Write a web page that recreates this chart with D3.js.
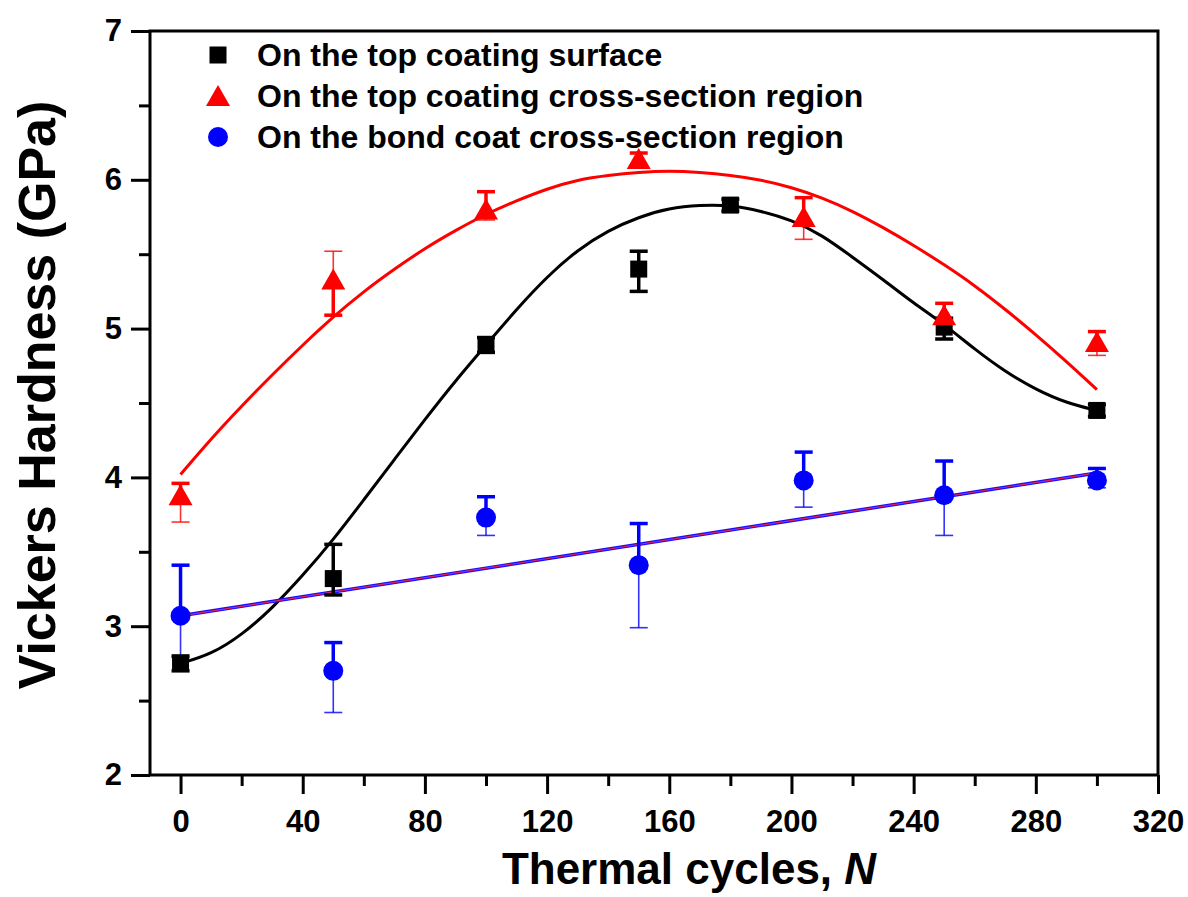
<!DOCTYPE html>
<html>
<head>
<meta charset="utf-8">
<script src="https://cdn.jsdelivr.net/npm/d3@7"></script>
<style>
  body { margin: 0; background: #fff; }
  svg { display: block; }
  text { font-family: "Liberation Sans", Arial, Helvetica, sans-serif; font-weight: bold; fill: #000; }
</style>
</head>
<body>
<svg id="chart" width="1188" height="897"></svg>
<script>
// ---- measured hardness (GPa) vs thermal cycles ----
const surfaceN      = [0, 50, 100, 150, 180, 250, 300];
const surfaceHV     = [2.75, 3.32, 4.89, 5.40, 5.83, 5.01, 4.45];
const surfaceUp     = [0.05, 0.23, 0.05, 0.12, 0.04, 0.06, 0.04];
const surfaceDown   = [0.05, 0.11, 0.05, 0.15, 0.04, 0.08, 0.04];

const topSectionN    = [0, 50, 100, 150, 204, 250, 300];
const topSectionHV   = [3.88, 5.33, 5.80, 6.14, 5.75, 5.09, 4.91];
const topSectionUp   = [0.08, 0.19, 0.12, 0.04, 0.13, 0.08, 0.07];
const topSectionDown = [0.18, 0.24, 0.07, 0.05, 0.15, 0.05, 0.09];

const bondN    = [0, 50, 100, 150, 204, 250, 300];
const bondHV   = [3.07, 2.70, 3.73, 3.41, 3.98, 3.88, 3.98];
const bondUp   = [0.34, 0.19, 0.14, 0.28, 0.19, 0.23, 0.08];
const bondDown = [0.28, 0.28, 0.12, 0.42, 0.18, 0.27, 0.05];

// ---- fitted trend curves ----
const surfaceFitN  = [0, 10, 20, 30, 40, 50, 60, 70, 80, 90, 100, 110, 120, 130, 140, 150,
                      160, 170, 180, 190, 200, 210, 220, 230, 240, 250, 260, 270, 280, 290, 300];
const surfaceFitHV = [2.75, 2.81, 2.94, 3.12, 3.34, 3.58, 3.85, 4.12, 4.39, 4.65, 4.89, 5.13, 5.35,
                      5.53, 5.66, 5.75, 5.81, 5.83, 5.83, 5.79, 5.73, 5.63, 5.48, 5.33, 5.17, 5.03,
                      4.86, 4.71, 4.59, 4.50, 4.45];
const topFitN  = surfaceFitN;
const topFitHV = [4.02, 4.26, 4.48, 4.69, 4.89, 5.08, 5.25, 5.40, 5.54, 5.66, 5.77, 5.86, 5.94,
                  6.00, 6.03, 6.05, 6.06, 6.05, 6.03, 6.00, 5.95, 5.88, 5.79, 5.68, 5.56, 5.43,
                  5.29, 5.13, 4.96, 4.78, 4.59];
const bondFitN  = [0, 300];
const bondFitHV = [3.07, 4.03];

// ---- axis ticks and labels ----
const xMajor = [0, 40, 80, 120, 160, 200, 240, 280, 320];
const xMinor = [20, 60, 100, 140, 180, 220, 260, 300];
const yMajor = [2, 3, 4, 5, 6, 7];
const yMinor = [2.5, 3.5, 4.5, 5.5, 6.5];
const xTitle = "Thermal cycles, ";
const xTitleVar = "N";
const yTitle = "Vickers Hardness (GPa)";
const legendLabels = [
  "On the top coating surface",
  "On the top coating cross-section region",
  "On the bond coat cross-section region"
];

// which whiskers are drawn heavy (1) or light (0)
const surfaceHeavyUp = [1, 1, 1, 1, 1, 1, 1], surfaceHeavyDown = [1, 1, 1, 1, 1, 1, 1];
const topHeavyUp     = [1, 0, 1, 1, 1, 1, 1], topHeavyDown     = [0, 1, 0, 0, 0, 0, 0];
const bondHeavyUp    = [1, 1, 1, 1, 1, 1, 1], bondHeavyDown    = [0, 0, 0, 0, 0, 0, 0];

const svg = d3.select("#chart");
const plot = { left: 150, right: 1158, top: 31, bottom: 775 };

const x = d3.scaleLinear().domain([-10, 320]).range([plot.left, plot.right]);
const y = d3.scaleLinear().domain([2, 7]).range([plot.bottom, plot.top]);

// axes with outward ticks
const gx = svg.append("g").attr("transform", `translate(0,${plot.bottom})`)
  .call(d3.axisBottom(x).tickValues(xMajor).tickSize(19).tickPadding(16).tickFormat(d3.format("d")));
const gxm = svg.append("g").attr("transform", `translate(0,${plot.bottom})`)
  .call(d3.axisBottom(x).tickValues(xMinor).tickSize(11).tickFormat(""));
const gy = svg.append("g").attr("transform", `translate(${plot.left},0)`)
  .call(d3.axisLeft(y).tickValues(yMajor).tickSize(19).tickPadding(9).tickFormat(d3.format("d")));
const gym = svg.append("g").attr("transform", `translate(${plot.left},0)`)
  .call(d3.axisLeft(y).tickValues(yMinor).tickSize(11).tickFormat(""));

[gx, gxm, gy, gym].forEach(g => {
  g.select(".domain").remove();
  g.selectAll(".tick line").attr("stroke", "#000").attr("stroke-width", 3);
  g.selectAll(".tick text").attr("font-size", 31).attr("fill", "#000")
    .attr("font-family", '"Liberation Sans", Arial, sans-serif').attr("font-weight", "bold");
});

// frame
svg.append("rect")
  .attr("x", plot.left).attr("y", plot.top)
  .attr("width", plot.right - plot.left).attr("height", plot.bottom - plot.top)
  .attr("fill", "none").attr("stroke", "#000").attr("stroke-width", 3);

// axis titles
const xt = svg.append("text").attr("x", (plot.left + plot.right) / 2 + 35).attr("y", 884)
  .attr("text-anchor", "middle").attr("font-size", 44);
xt.append("tspan").text(xTitle);
xt.append("tspan").attr("font-style", "italic").text(xTitleVar);

svg.append("text")
  .attr("transform", `translate(55,395) rotate(-90)`)
  .attr("text-anchor", "middle").attr("font-size", 52).text(yTitle);

// fitted curves
const line = d3.line().x(d => x(d[0])).y(d => y(d[1])).curve(d3.curveBasis);
const zipPts = (a, b) => a.map((v, i) => [v, b[i]]);

svg.append("path").datum(zipPts(topFitN, topFitHV)).attr("d", line)
  .attr("fill", "none").attr("stroke", "#ff0000").attr("stroke-width", 3);
svg.append("path").datum(zipPts(surfaceFitN, surfaceFitHV)).attr("d", line)
  .attr("fill", "none").attr("stroke", "#000").attr("stroke-width", 3);
svg.append("path").datum(zipPts(bondFitN, bondFitHV)).attr("d", line)
  .attr("fill", "none").attr("stroke", "#1010ff").attr("stroke-width", 3.5);
svg.append("path").datum(zipPts(bondFitN, bondFitHV)).attr("d", line)
  .attr("fill", "none").attr("stroke", "#e0206a").attr("stroke-width", 1.2);

// markers
function marker(g, shape, cx, cy, color) {
  if (shape === "square") {
    g.append("rect").attr("x", cx - 8.5).attr("y", cy - 8.5).attr("width", 17).attr("height", 17).attr("fill", color);
  } else if (shape === "triangle") {
    g.append("path").attr("d", `M${cx},${cy - 11}L${cx + 12},${cy + 10}L${cx - 12},${cy + 10}Z`).attr("fill", color);
  } else {
    g.append("circle").attr("cx", cx).attr("cy", cy).attr("r", 10).attr("fill", color);
  }
}

function drawSeries(N, HV, up, down, heavyUp, heavyDown, color, shape) {
  const g = svg.append("g");
  N.forEach((n, i) => {
    const cx = x(n), cy = y(HV[i]);
    const yu = y(HV[i] + up[i]), yd = y(HV[i] - down[i]);
    const wu = heavyUp[i] ? 3.5 : 1.6, wd = heavyDown[i] ? 3.5 : 1.6;
    const ou = heavyUp[i] ? 1 : 0.8, od = heavyDown[i] ? 1 : 0.8;
    g.append("line").attr("x1", cx).attr("x2", cx).attr("y1", cy).attr("y2", yu)
      .attr("stroke", color).attr("stroke-width", wu).attr("opacity", ou);
    g.append("line").attr("x1", cx - 9).attr("x2", cx + 9).attr("y1", yu).attr("y2", yu)
      .attr("stroke", color).attr("stroke-width", wu).attr("opacity", ou);
    g.append("line").attr("x1", cx).attr("x2", cx).attr("y1", cy).attr("y2", yd)
      .attr("stroke", color).attr("stroke-width", wd).attr("opacity", od);
    g.append("line").attr("x1", cx - 9).attr("x2", cx + 9).attr("y1", yd).attr("y2", yd)
      .attr("stroke", color).attr("stroke-width", wd).attr("opacity", od);
    marker(g, shape, cx, cy, color);
  });
}

drawSeries(bondN, bondHV, bondUp, bondDown, bondHeavyUp, bondHeavyDown, "#0000ff", "circle");
drawSeries(surfaceN, surfaceHV, surfaceUp, surfaceDown, surfaceHeavyUp, surfaceHeavyDown, "#000000", "square");
drawSeries(topSectionN, topSectionHV, topSectionUp, topSectionDown, topHeavyUp, topHeavyDown, "#ff0000", "triangle");

// legend
const legendShapes = ["square", "triangle", "circle"];
const legendColors = ["#000000", "#ff0000", "#0000ff"];
const legend = svg.append("g");
legendLabels.forEach((label, i) => {
  const cy = 55 + i * 41;
  marker(legend, legendShapes[i], 218, cy, legendColors[i]);
  legend.append("text").attr("x", 257).attr("y", cy + 11).attr("font-size", 32).text(label);
});
</script>
</body>
</html>
